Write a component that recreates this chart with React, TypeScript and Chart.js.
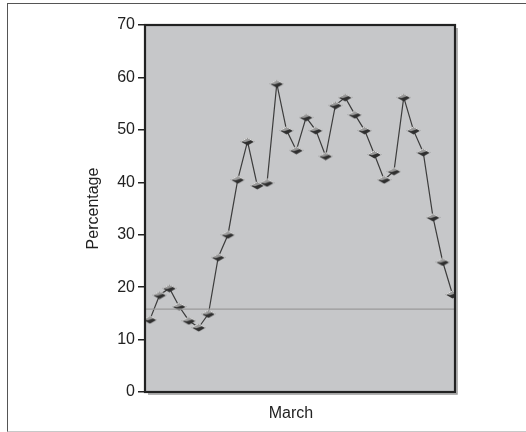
import React, { useEffect, useRef } from "react";
import { Chart, registerables } from "chart.js";

Chart.register(...registerables);

const days: number[] = [
  1, 2, 3, 4, 5, 6, 7, 8, 9, 10, 11, 12, 13, 14, 15, 16,
  17, 18, 19, 20, 21, 22, 23, 24, 25, 26, 27, 28, 29, 30, 31, 32,
];
const percentages: number[] = [
  13.8, 18.5, 19.8, 16.3, 13.6, 12.3, 14.9, 25.7, 30.0, 40.5, 47.8, 39.4, 39.9, 58.8, 49.9, 46.1,
  52.4, 49.9, 45.0, 54.7, 56.2, 52.9, 49.9, 45.3, 40.5, 42.1, 56.2, 49.9, 45.7, 33.3, 24.8, 18.6,
];
const referenceLevel: number[] = [15.8, 15.8];
const yTicks: number[] = [0, 10, 20, 30, 40, 50, 60, 70];
const xTitle = "March";
const yTitle = "Percentage";

const X_MIN = 0.5;
const X_MAX = 32.25;
const FONT = "Liberation Sans, Arial, sans-serif";

function makeMarker(): HTMLCanvasElement {
  const c = document.createElement("canvas");
  c.width = 15;
  c.height = 9;
  const g = c.getContext("2d")!;
  g.beginPath();
  g.moveTo(0.5, 4.5);
  g.lineTo(7.5, 0.5);
  g.lineTo(14.5, 4.5);
  g.lineTo(7.5, 8.5);
  g.closePath();
  g.fillStyle = "#2f2f2f";
  g.fill();
  g.beginPath();
  g.moveTo(1.5, 4.3);
  g.lineTo(7.5, 1.2);
  g.lineTo(11, 3.2);
  g.lineTo(5, 5.2);
  g.closePath();
  g.fillStyle = "#9a9a9a";
  g.fill();
  g.beginPath();
  g.moveTo(1, 4.5);
  g.lineTo(7.5, 0.8);
  g.lineTo(14, 4.5);
  g.strokeStyle = "#e8e8e8";
  g.lineWidth = 1;
  g.stroke();
  return c;
}

const plotFrame = {
  id: "plotFrame",
  beforeDatasetsDraw(chart: any) {
    const { ctx, chartArea: a } = chart;
    ctx.save();
    ctx.fillStyle = "#c6c7c9";
    ctx.fillRect(a.left, a.top, a.right - a.left, a.bottom - a.top);
    ctx.restore();
  },
  afterDraw(chart: any) {
    const { ctx, chartArea: a } = chart;
    ctx.save();
    ctx.strokeStyle = "#9a9a9a";
    ctx.lineWidth = 1.5;
    ctx.beginPath();
    ctx.moveTo(a.right + 2, a.top + 3);
    ctx.lineTo(a.right + 2, a.bottom + 2);
    ctx.lineTo(a.left + 3, a.bottom + 2);
    ctx.stroke();
    ctx.strokeStyle = "#222";
    ctx.lineWidth = 2.2;
    ctx.strokeRect(a.left, a.top, a.right - a.left, a.bottom - a.top);
    // x-axis title
    ctx.fillStyle = "#222";
    ctx.font = `16px ${FONT}`;
    ctx.textAlign = "center";
    ctx.textBaseline = "alphabetic";
    ctx.fillText(xTitle, (a.left + a.right) / 2 - 9, a.bottom + 26);
    ctx.restore();
  },
};

export default function App() {
  const ref = useRef<HTMLCanvasElement | null>(null);

  useEffect(() => {
    if (!ref.current) return;
    const marker = makeMarker();
    const chart = new Chart(ref.current, {
      type: "line",
      data: {
        datasets: [
          {
            label: "Level",
            data: [
              { x: X_MIN, y: referenceLevel[0] },
              { x: X_MAX, y: referenceLevel[1] },
            ],
            borderColor: "#9a9a9a",
            borderWidth: 1.2,
            pointRadius: 0,
            clip: 0,
          },
          {
            label: "Percentage",
            data: days.map((d, i) => ({ x: d, y: percentages[i] })),
            borderColor: "#3c3c3c",
            borderWidth: 1.2,
            pointStyle: marker as any,
            pointRadius: 5,
            tension: 0,
            clip: 0,
          },
        ],
      },
      options: {
        animation: false,
        responsive: false,
        devicePixelRatio: 1,
        layout: { padding: { left: 84, top: 25, right: 71, bottom: 9 } },
        plugins: { legend: { display: false }, tooltip: { enabled: false } },
        scales: {
          x: {
            type: "linear",
            min: X_MIN,
            max: X_MAX,
            ticks: { display: false },
            grid: { display: false },
            border: { display: false },
            title: { display: false },
            afterFit: (s: any) => {
              s.height = 31;
            },
          },
          y: {
            min: 0,
            max: 70,
            afterBuildTicks: (s: any) => {
              s.ticks = yTicks.map((v) => ({ value: v }));
            },
            ticks: {
              color: "#222",
              padding: 3,
              font: { family: FONT, size: 16 },
            },
            grid: {
              display: true,
              drawOnChartArea: false,
              drawTicks: true,
              tickLength: 7,
              color: "#222",
              lineWidth: 1.5,
            },
            border: { display: true, color: "#222", width: 2.2 },
            title: {
              display: true,
              text: yTitle,
              color: "#222",
              font: { family: FONT, size: 16 },
              padding: { top: 0, bottom: 4 },
            },
            afterFit: (s: any) => {
              s.width = 61;
            },
          },
        },
      },
      plugins: [plotFrame],
    });
    return () => chart.destroy();
  }, []);

  return (
    <div style={{ position: "fixed", left: 0, top: 0, width: 526, height: 432, background: "#fff" }}>
      <div
        style={{
          position: "absolute",
          left: 6.5,
          top: 2.5,
          width: 530,
          height: 427,
          borderLeft: "1.5px solid #555",
          borderTop: "1.5px solid #555",
          borderBottom: "1.5px solid #c8c8c8",
        }}
      />
      <canvas
        ref={ref}
        width={526}
        height={432}
        style={{ position: "absolute", left: 0, top: 0, width: 526, height: 432 }}
      />
    </div>
  );
}
